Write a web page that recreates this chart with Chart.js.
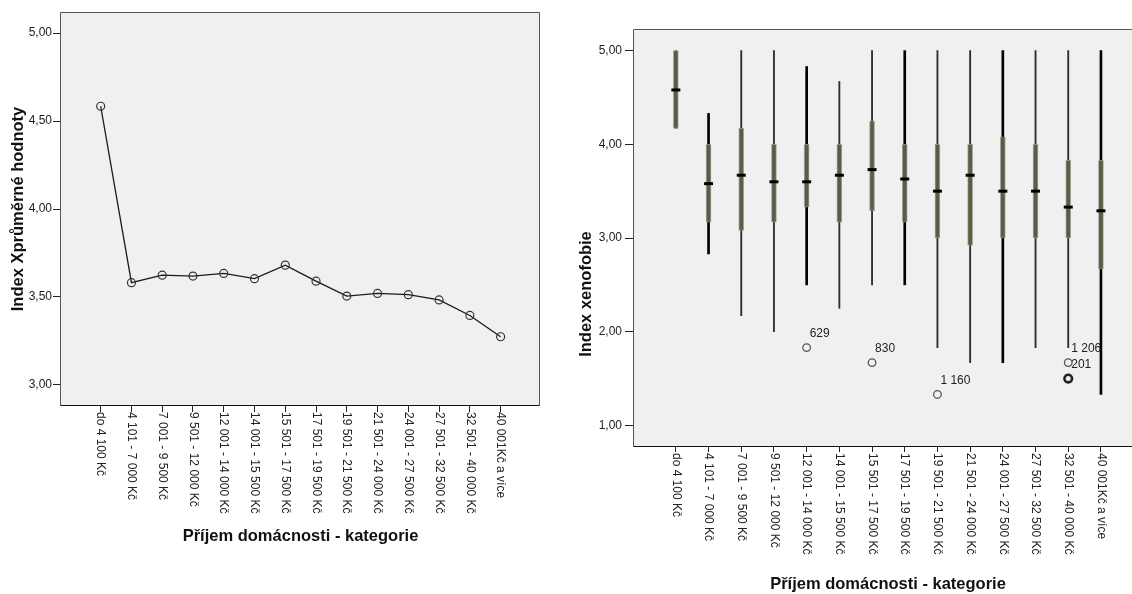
<!DOCTYPE html>
<html><head><meta charset="utf-8">
<script src="https://cdn.jsdelivr.net/npm/chart.js@4.4.1/dist/chart.umd.min.js"></script>
<style>
html,body{margin:0;padding:0;background:#fff;}
#wrap{position:relative;width:1132px;height:594px;overflow:hidden;}
.c{position:absolute;top:0;width:566px;height:594px;}
</style></head><body>
<div id="wrap">
<div class="c" style="left:0"><canvas id="left" width="566" height="594"></canvas></div>
<div class="c" style="left:566px"><canvas id="right" width="566" height="594"></canvas></div>
</div>
<script>
// ---- data ----
const categories = ['do 4 100 Kč','4 101 - 7 000 Kč','7 001 - 9 500 Kč','9 501 - 12 000 Kč','12 001 - 14 000 Kč','14 001 - 15 500 Kč','15 501 - 17 500 Kč','17 501 - 19 500 Kč','19 501 - 21 500 Kč','21 501 - 24 000 Kč','24 001 - 27 500 Kč','27 501 - 32 500 Kč','32 501 - 40 000 Kč','40 001Kč a více'];
const meanIndexX = [4.584, 3.581, 3.624, 3.619, 3.634, 3.604, 3.681, 3.590, 3.505, 3.520, 3.513, 3.483, 3.395, 3.274];
const yTicksLeft = [3.0, 3.5, 4.0, 4.5, 5.0];
const yTicksRight = [1.0, 2.0, 3.0, 4.0, 5.0];
const whiskerLow  = [4.17, 2.83, 2.17, 2.00, 2.50, 2.25, 2.50, 2.50, 1.83, 1.67, 1.67, 1.83, 1.83, 1.33];
const q1          = [4.17, 3.17, 3.08, 3.17, 3.33, 3.17, 3.29, 3.17, 3.00, 2.92, 3.00, 3.00, 3.00, 2.67];
const median      = [4.58, 3.58, 3.67, 3.60, 3.60, 3.67, 3.73, 3.63, 3.50, 3.67, 3.50, 3.50, 3.33, 3.29];
const q3          = [5.00, 4.00, 4.17, 4.00, 4.00, 4.00, 4.25, 4.00, 4.00, 4.00, 4.08, 4.00, 3.83, 3.83];
const whiskerHigh = [5.00, 4.33, 5.00, 5.00, 4.83, 4.67, 5.00, 5.00, 5.00, 5.00, 5.00, 5.00, 5.00, 5.00];
const outlierCats   = [4, 6, 8, 12, 12];
const outlierValues = [1.83, 1.67, 1.33, 1.67, 1.50];
const outlierLabels = ['629', '830', '1 160', '1 206', '201'];
const outlierCounts = [1, 1, 1, 1, 3];

// ---- styles ----
const whiskerHeavy = [false,true,false,false,true,false,false,true,false,false,true,false,false,true];
const FONT = "'Liberation Sans', Arial, sans-serif";
Chart.defaults.font.family = FONT;
Chart.defaults.color = '#222';
Chart.defaults.animation = false;

const frameBg = {
  id: 'frameBg',
  beforeDraw(chart, args, o) {
    const {ctx, chartArea: a} = chart;
    ctx.save(); ctx.fillStyle = o.fill;
    ctx.fillRect(a.left, a.top, a.right - a.left, a.bottom - a.top);
    ctx.restore();
  },
  afterDraw(chart, args, o) {
    const {ctx, chartArea: a} = chart;
    const L = Math.round(a.left) - 0.5, T = Math.round(a.top) - 0.5;
    const R = Math.round(a.right) - 0.5, B = Math.round(a.bottom) + 0.5;
    ctx.save(); ctx.lineWidth = 1;
    ctx.strokeStyle = o.color;
    ctx.beginPath();
    if (o.right) { ctx.moveTo(R, B); ctx.lineTo(R, T); }
    ctx.moveTo(R + (o.right ? 0 : 1), T); ctx.lineTo(L, T); ctx.lineTo(L, B);
    ctx.stroke();
    ctx.strokeStyle = o.bottomColor;
    ctx.beginPath(); ctx.moveTo(L, B); ctx.lineTo(R + (o.right ? 0 : 1), B); ctx.stroke();
    ctx.restore();
  }
};

const rotatedXLabels = {
  id: 'rotatedXLabels',
  afterDraw(chart, args, o) {
    const {ctx, chartArea: a} = chart;
    const xs = chart.scales.x;
    ctx.save();
    ctx.font = '12px ' + FONT; ctx.fillStyle = '#222';
    ctx.textAlign = 'left'; ctx.textBaseline = 'middle';
    xs.ticks.forEach(t => {
      const px = xs.getPixelForValue(t.value);
      ctx.save(); ctx.translate(px, a.bottom + o.gap); ctx.rotate(Math.PI / 2);
      ctx.fillText(categories[t.value], 0, 0);
      ctx.restore();
    });
    ctx.restore();
  }
};

const axisTitles = {
  id: 'axisTitles',
  afterDraw(chart, args, o) {
    const {ctx, chartArea: a} = chart;
    ctx.save();
    ctx.font = 'bold 16.5px ' + FONT; ctx.fillStyle = '#111';
    ctx.textAlign = 'center'; ctx.textBaseline = 'middle';
    const xx = o.x.x != null ? o.x.x : (a.left + a.right) / 2;
    ctx.fillText(o.x.text, xx, o.x.y);
    const yy = o.y.y != null ? o.y.y : (a.top + a.bottom) / 2;
    ctx.translate(o.y.x, yy); ctx.rotate(-Math.PI / 2);
    ctx.fillText(o.y.text, 0, 0);
    ctx.restore();
  }
};

const outlierText = {
  id: 'outlierText',
  afterDatasetsDraw(chart) {
    const ds = chart.data.datasets.findIndex(d => d.id === 'outliers');
    if (ds < 0) return;
    const meta = chart.getDatasetMeta(ds);
    const {ctx} = chart;
    ctx.save(); ctx.font = '12px ' + FONT; ctx.fillStyle = '#222';
    ctx.textAlign = 'left'; ctx.textBaseline = 'middle';
    meta.data.forEach((el, i) => ctx.fillText(outlierLabels[i], el.x + 3, el.y - 14));
    ctx.restore();
  }
};

const fmt = v => Number(v).toFixed(2).replace('.', ',');

// ---- left chart ----
new Chart(document.getElementById('left'), {
  type: 'line',
  data: {
    datasets: [{
      data: meanIndexX.map((v, i) => ({x: i, y: v})),
      borderColor: '#1a1a1a', borderWidth: 1.3, tension: 0,
      pointRadius: 4, pointBorderColor: '#333', pointBorderWidth: 1.2,
      pointBackgroundColor: 'rgba(0,0,0,0)'
    }]
  },
  options: {
    responsive: false,
    layout: {autoPadding: false, padding: {left: 0, top: 13, right: 26, bottom: 0}},
    plugins: {
      legend: {display: false}, tooltip: {enabled: false},
      frameBg: {fill: '#f0f0f0', color: '#555', bottomColor: '#111', right: true},
      rotatedXLabels: {gap: 7},
      axisTitles: {x: {text: 'Příjem domácnosti - kategorie', y: 536}, y: {text: 'Index Xprůměrné hodnoty', x: 18}}
    },
    scales: {
      x: {
        type: 'linear', min: -1.29, max: 14.28, offset: false,
        afterBuildTicks: s => { s.ticks = categories.map((c, i) => ({value: i})); },
        afterFit: s => { s.height = 594 - 405; },
        ticks: {display: false},
        grid: {drawOnChartArea: false, drawTicks: true, tickLength: 7, color: '#222'},
        border: {display: false}
      },
      y: {
        min: 2.886, max: 5.114,
        afterBuildTicks: s => { s.ticks = yTicksLeft.map(v => ({value: v})); },
        afterFit: s => { s.width = 61; },
        ticks: {callback: fmt, font: {size: 12}, color: '#222', padding: 1},
        grid: {drawOnChartArea: false, drawTicks: true, tickLength: 8, color: '#222'},
        border: {display: false}
      }
    }
  },
  plugins: [frameBg, rotatedXLabels, axisTitles]
});

// ---- right chart ----
const idx = categories.map((c, i) => i);
new Chart(document.getElementById('right'), {
  type: 'bar',
  data: {
    datasets: [
      {
        label: 'whisker heavy', order: 5, grouped: false,
        data: idx.filter(i => whiskerHeavy[i]).map(i => ({x: i, y: [whiskerLow[i], whiskerHigh[i]]})),
        backgroundColor: '#000', borderWidth: 0, barThickness: 2
      },
      {
        label: 'whisker', order: 4, grouped: false,
        data: idx.filter(i => !whiskerHeavy[i]).map(i => ({x: i, y: [whiskerLow[i], whiskerHigh[i]]})),
        backgroundColor: '#2e2e2e', borderWidth: 0, barThickness: 1.2
      },
      {
        label: 'box', order: 3, grouped: false,
        data: idx.map(i => ({x: i, y: [q1[i], q3[i]]})),
        backgroundColor: '#5d5a45', borderColor: 'rgba(150,150,138,0.85)', borderWidth: 1,
        borderSkipped: false, barThickness: 5
      },
      {
        type: 'scatter', label: 'median', order: 2,
        data: idx.map(i => ({x: i, y: median[i]})),
        pointStyle: 'line', pointRadius: 4.5, borderColor: '#000', borderWidth: 3,
        pointBorderWidth: 3, pointBorderColor: '#000'
      },
      {
        type: 'scatter', id: 'outliers', label: 'outliers', order: 1,
        data: outlierCats.map((c, k) => ({x: c, y: outlierValues[k]})),
        pointStyle: 'circle', pointRadius: 3.8,
        pointBackgroundColor: 'rgba(0,0,0,0)',
        pointBorderColor: ctx => outlierCounts[ctx.dataIndex] > 1 ? '#222' : '#555',
        pointBorderWidth: ctx => outlierCounts[ctx.dataIndex] > 1 ? 2.6 : 1.3
      }
    ]
  },
  options: {
    responsive: false,
    layout: {autoPadding: false, padding: {left: 0, top: 30, right: 0, bottom: 0}},
    plugins: {
      legend: {display: false}, tooltip: {enabled: false},
      frameBg: {fill: '#f0f0f0', color: '#555', bottomColor: '#111', right: false},
      rotatedXLabels: {gap: 7},
      axisTitles: {x: {text: 'Příjem domácnosti - kategorie', x: 322, y: 584}, y: {text: 'Index xenofobie', x: 20.7, y: 294}}
    },
    scales: {
      x: {
        type: 'linear', min: -1.28, max: 13.95, offset: false,
        afterBuildTicks: s => { s.ticks = categories.map((c, i) => ({value: i})); },
        afterFit: s => { s.height = 594 - 446; },
        ticks: {display: false},
        grid: {drawOnChartArea: false, drawTicks: true, tickLength: 6, color: '#222', offset: false},
        border: {display: false}
      },
      y: {
        min: 0.78, max: 5.22,
        afterBuildTicks: s => { s.ticks = yTicksRight.map(v => ({value: v})); },
        afterFit: s => { s.width = 68; },
        ticks: {callback: fmt, font: {size: 12}, color: '#222', padding: 3},
        grid: {drawOnChartArea: false, drawTicks: true, tickLength: 9, color: '#222'},
        border: {display: false}
      }
    }
  },
  plugins: [frameBg, rotatedXLabels, axisTitles, outlierText]
});
</script>
</body></html>
